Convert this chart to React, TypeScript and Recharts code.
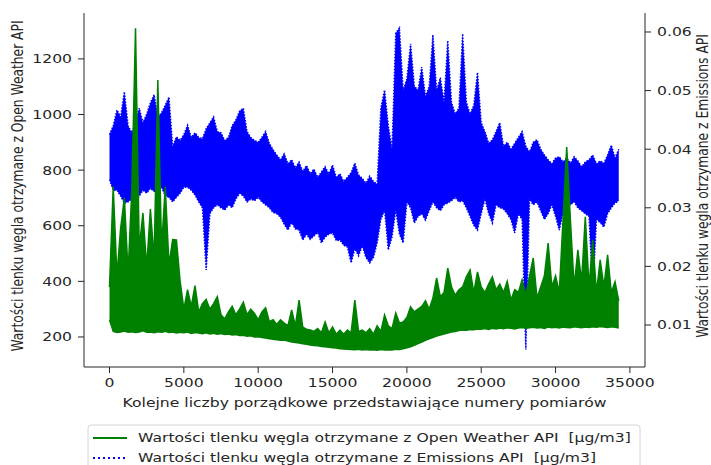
import { ComposedChart, Area, XAxis, YAxis } from 'recharts';

const FONT = '"DejaVu Sans", sans-serif';
const FS = 12.3;
// the reference picture is stretched sideways, so text is too
const SX = 1.27;
const INK = '#262626';
const GREEN = '#008000';
const BLUE = '#0000ff';

// one bin every 250 measurements, lowest and highest value read in each bin
const STEP = 250;

const openWeatherHigh = [
  380, 740, 420, 592, 700, 430, 728, 1310, 520, 646,
  450, 660, 480, 1124, 520, 740, 460, 550, 549, 400,
  300, 370, 310, 385, 290, 320, 335, 300, 320, 345,
  280, 265, 290, 310, 280, 300, 325, 280, 300, 285,
  262, 290, 305, 255, 262, 245, 262, 250, 240, 297,
  240, 333, 235, 228, 225, 220, 230, 215, 254, 215,
  236, 210, 225, 210, 225, 215, 333, 220, 225, 215,
  230, 210, 240, 220, 279, 240, 230, 286, 250, 254,
  270, 308, 290, 300, 310, 330, 300, 340, 412, 345,
  360, 448, 380, 350, 370, 380, 416, 441, 360, 434,
  380, 360, 390, 416, 370, 390, 360, 400, 333, 370,
  360, 405, 350, 420, 484, 340, 380, 420, 538, 380,
  420, 360, 620, 883, 620, 380, 513, 400, 632, 380,
  549, 360, 477, 380, 495, 360, 398, 330,
];

const openWeatherLow = [
  262, 220, 216, 218, 221, 217, 219, 216, 218, 222,
  217, 218, 215, 219, 217, 220, 216, 218, 214, 217,
  215, 218, 213, 216, 214, 212, 215, 211, 213, 210,
  212, 209, 211, 207, 209, 205, 206, 203, 204, 200,
  201, 198, 196, 194, 192, 190, 188, 189, 185, 182,
  180, 178, 176, 174, 171, 169, 168, 166, 165, 163,
  161, 160, 158, 157, 156, 155, 154, 156, 153, 155,
  153, 154, 152, 155, 153, 154, 153, 156, 155, 158,
  161, 165, 170, 176, 182, 188, 193, 198, 203, 207,
  211, 214, 218, 220, 223, 225, 224, 227, 226, 229,
  228, 230, 227, 231, 229, 232, 230, 233, 231, 229,
  232, 234, 231, 233, 235, 232, 234, 231, 236, 233,
  235, 232, 236, 234, 233, 237, 235, 233, 236, 234,
  237, 235, 238, 236, 234, 237, 235, 232,
];

const emissionsHigh = [
  0.0425, 0.0440, 0.0467, 0.0455, 0.0498, 0.0440, 0.0428, 0.0445, 0.0470, 0.0445,
  0.0460, 0.0479, 0.0493, 0.0455, 0.0462, 0.0475, 0.0489, 0.0404, 0.0421, 0.0415,
  0.0425, 0.0441, 0.0420, 0.0428, 0.0420, 0.0418, 0.0435, 0.0445, 0.0455, 0.0430,
  0.0428, 0.0415, 0.0420, 0.0440, 0.0450, 0.0465, 0.0470, 0.0430, 0.0420, 0.0415,
  0.0412, 0.0420, 0.0430, 0.0410, 0.0399, 0.0390, 0.0382, 0.0392, 0.0375, 0.0382,
  0.0368, 0.0378, 0.0362, 0.0372, 0.0358, 0.0366, 0.0352, 0.0361, 0.0370, 0.0358,
  0.0373, 0.0352, 0.0358, 0.0345, 0.0352, 0.0360, 0.0376, 0.0356, 0.0350, 0.0342,
  0.0354, 0.0345, 0.0340, 0.0470, 0.0501, 0.0440, 0.0400, 0.0598, 0.0607, 0.0500,
  0.0520, 0.0580, 0.0508, 0.0500, 0.0540, 0.0490, 0.0507, 0.0595, 0.0500, 0.0522,
  0.0480, 0.0585, 0.0480, 0.0460, 0.0470, 0.0597, 0.0480, 0.0460, 0.0475, 0.0531,
  0.0445, 0.0430, 0.0410, 0.0416, 0.0430, 0.0445, 0.0405, 0.0412, 0.0400, 0.0410,
  0.0420, 0.0430, 0.0405, 0.0395, 0.0412, 0.0416, 0.0400, 0.0390, 0.0382, 0.0375,
  0.0385, 0.0387, 0.0378, 0.0385, 0.0376, 0.0387, 0.0380, 0.0370, 0.0378, 0.0382,
  0.0390, 0.0375, 0.0380, 0.0376, 0.0390, 0.0407, 0.0385, 0.0400,
];

const emissionsLow = [
  0.0348, 0.0330, 0.0330, 0.0320, 0.0308, 0.0310, 0.0315, 0.0310, 0.0320, 0.0330,
  0.0325, 0.0333, 0.0328, 0.0330, 0.0335, 0.0320, 0.0318, 0.0310, 0.0318, 0.0325,
  0.0335, 0.0335, 0.0330, 0.0322, 0.0310, 0.0300, 0.0194, 0.0290, 0.0300, 0.0305,
  0.0300, 0.0296, 0.0305, 0.0300, 0.0315, 0.0325, 0.0320, 0.0310, 0.0315, 0.0312,
  0.0318, 0.0310, 0.0305, 0.0300, 0.0292, 0.0290, 0.0284, 0.0272, 0.0262, 0.0275,
  0.0264, 0.0262, 0.0245, 0.0255, 0.0246, 0.0252, 0.0258, 0.0240, 0.0250, 0.0255,
  0.0257, 0.0244, 0.0245, 0.0236, 0.0233, 0.0206, 0.0230, 0.0218, 0.0235, 0.0215,
  0.0206, 0.0215, 0.0240, 0.0280, 0.0296, 0.0228, 0.0250, 0.0296, 0.0255, 0.0240,
  0.0310, 0.0300, 0.0274, 0.0285, 0.0290, 0.0279, 0.0295, 0.0310, 0.0300, 0.0295,
  0.0305, 0.0308, 0.0312, 0.0318, 0.0310, 0.0312, 0.0300, 0.0285, 0.0270, 0.0262,
  0.0290, 0.0315, 0.0290, 0.0274, 0.0305, 0.0300, 0.0298, 0.0290, 0.0280, 0.0257,
  0.0290, 0.0280, 0.0058, 0.0315, 0.0305, 0.0310, 0.0295, 0.0280, 0.0290, 0.0305,
  0.0285, 0.0262, 0.0290, 0.0300, 0.0305, 0.0310, 0.0300, 0.0295, 0.0290, 0.0285,
  0.0155, 0.0280, 0.0275, 0.0267, 0.0290, 0.0300, 0.0308, 0.0312,
];

const xTicks = [0, 5000, 10000, 15000, 20000, 25000, 30000, 35000];
const leftTicks = [200, 400, 600, 800, 1000, 1200];
const rightTicks = [0.01, 0.02, 0.03, 0.04, 0.05, 0.06];

const xTitle = 'Kolejne liczby porządkowe przedstawiające numery pomiarów';
const leftTitle = 'Wartości tlenku węgla otrzymane z Open Weather API';
const rightTitle = 'Wartości tlenku węgla otrzymane z Emissions API';
const legendNames = [
  'Wartości tlenku węgla otrzymane z Open Weather API  [µg/m3]',
  'Wartości tlenku węgla otrzymane z Emissions API  [µg/m3]',
];

const data = openWeatherHigh.map((hi, i) => ({
  n: i * STEP,
  ow: [openWeatherLow[i], hi],
  em: [emissionsLow[i], emissionsHigh[i]],
}));

const XTick = ({ x, y, payload }: any) => (
  <g transform={`translate(${x},${y})`}>
    <text transform={`scale(${SX},1)`} y={12} textAnchor="middle" fill={INK} fontFamily={FONT} fontSize={FS}>
      {payload.value}
    </text>
  </g>
);

const LeftTick = ({ x, y, payload }: any) => (
  <g transform={`translate(${x},${y})`}>
    <text transform={`scale(${SX},1)`} y={4.5} textAnchor="end" fill={INK} fontFamily={FONT} fontSize={FS}>
      {payload.value}
    </text>
  </g>
);

const RightTick = ({ x, y, payload }: any) => (
  <g transform={`translate(${x},${y})`}>
    <text transform={`scale(${SX},1)`} y={4.5} textAnchor="start" fill={INK} fontFamily={FONT} fontSize={FS}>
      {Number(payload.value).toFixed(2)}
    </text>
  </g>
);

const Title = ({ cx, cy, text, vertical }: any) => (
  <text
    transform={`translate(${cx},${cy}) scale(${SX},1)${vertical ? ' rotate(-90)' : ''}`}
    textAnchor="middle"
    dominantBaseline="central"
    fill={INK}
    fontFamily={FONT}
    fontSize={FS}
  >
    {text}
  </text>
);

function LegendBox() {
  return (
    <svg width={554} height={44} style={{ position: 'absolute', left: 87, top: 424 }}>
      <rect x={1} y={1} width={552} height={48} rx={3} fill="#fff" stroke="#d4d4d4" />
      <line x1={6} x2={40} y1={14} y2={14} stroke={GREEN} strokeWidth={2} />
      <line x1={6} x2={40} y1={34} y2={34} stroke={BLUE} strokeWidth={2} strokeDasharray="2 3" />
      {legendNames.map((name, i) => (
        <text
          key={name}
          transform={`translate(51,${14 + i * 20}) scale(${SX},1)`}
          dominantBaseline="central"
          fill={INK}
          fontFamily={FONT}
          fontSize={FS}
          style={{ whiteSpace: 'pre' }}
        >
          {name}
        </text>
      ))}
    </svg>
  );
}

export default function App() {
  return (
    <div style={{ position: 'absolute', left: 0, top: 0, width: 711, height: 465, background: '#fff', overflow: 'hidden' }}>
      <ComposedChart width={711} height={465} data={data} margin={{ top: 13, right: 10, bottom: 68, left: 30 }}>
        <XAxis
          dataKey="n"
          type="number"
          domain={[-1715, 36015]}
          allowDataOverflow
          ticks={xTicks}
          height={30}
          stroke={INK}
          tickSize={6}
          tickMargin={2}
          tick={XTick}
        />
        <XAxis xAxisId="top" orientation="top" type="number" domain={[-1715, 36015]} allowDataOverflow height={0} stroke={INK} tick={false} tickLine={false} />
        <YAxis
          yAxisId="left"
          type="number"
          domain={[92, 1365]}
          allowDataOverflow
          ticks={leftTicks}
          width={54}
          stroke={INK}
          tickSize={6}
          tickMargin={6}
          tick={LeftTick}
        />
        <YAxis
          yAxisId="right"
          orientation="right"
          type="number"
          domain={[0.00283, 0.06324]}
          allowDataOverflow
          ticks={rightTicks}
          width={56}
          stroke={INK}
          tickSize={6}
          tickMargin={6}
          tick={RightTick}
        />
        <Area
          yAxisId="right"
          dataKey="em"
          type="linear"
          fill={BLUE}
          fillOpacity={1}
          stroke={BLUE}
          strokeWidth={1.5}
          strokeDasharray="1.5 1.5"
          dot={false}
          activeDot={false}
          isAnimationActive={false}
        />
        <Area
          yAxisId="left"
          dataKey="ow"
          type="linear"
          fill={GREEN}
          fillOpacity={1}
          stroke={GREEN}
          strokeWidth={1.5}
          dot={false}
          activeDot={false}
          isAnimationActive={false}
        />
        <Title cx={364.5} cy={403} text={xTitle} />
        <Title cx={17} cy={186} text={leftTitle} vertical />
        <Title cx={702} cy={186} text={rightTitle} vertical />
      </ComposedChart>
      <LegendBox />
    </div>
  );
}
